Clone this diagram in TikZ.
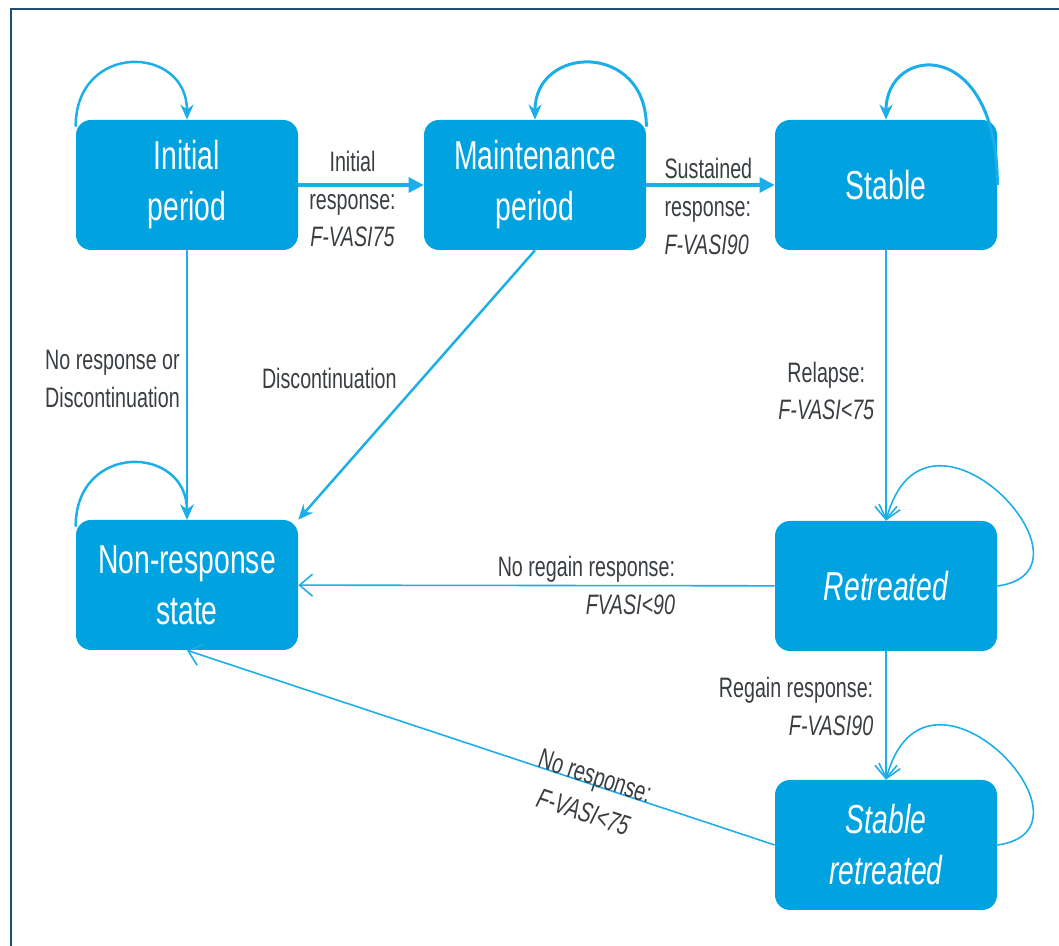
\documentclass[tikz,border=0pt]{standalone}
\usepackage{fontspec}
\setmainfont{Liberation Sans}[FakeStretch=0.7]
\usetikzlibrary{arrows.meta}
\definecolor{stateblue}{RGB}{0,163,224}
\definecolor{flowblue}{RGB}{27,174,232}
\definecolor{inkgray}{RGB}{58,62,66}
\definecolor{framenavy}{RGB}{31,78,121}

\begin{document}
\begin{tikzpicture}[
        state/.style={rectangle,rounded corners=0.3cm,fill=stateblue,text=white,minimum width=4.44cm,
          minimum height=2.6cm,align=center,font=\fontsize{23}{29}\selectfont},
        lbl/.style={text=inkgray,inner sep=0pt,font=\fontsize{16}{21.5}\selectfont},
        bold flow/.style={draw=flowblue,line width=1.8pt,-{Triangle[length=3mm,width=3mm]}},
        flow/.style={draw=flowblue,line width=1.4pt,-{Stealth[length=3mm,width=2.6mm]}},
        thin flow/.style={draw=flowblue,line width=0.9pt,-{Straight Barb[length=2.6mm,width=4.4mm]}}]
        \useasboundingbox (0,0) rectangle (21.18,18.92);
        \draw[framenavy,line width=1.1pt] (0.22,0) |- (21.18,18.74);

        % states
        \node[state] (init) at (3.74,15.22) {Initial\\period};
        \node[state] (maint) at (10.70,15.22) {Maintenance\\period};
        \node[state] (stable) at (17.72,15.22) {Stable};
        \node[state] (nonresp) at (3.74,7.22) {Non-response\\state};
        \node[state,font=\fontsize{23}{29}\selectfont\itshape] (retr) at (17.72,7.20) {Retreated};
        \node[state,font=\fontsize{23}{29}\selectfont\itshape] (stabret) at (17.72,2.02) {Stable\\retreated};

        % self loops
        \foreach \s in {init,nonresp}
          \draw[flow] ([yshift=-0.14cm]\s.north west) .. controls +(0,1.7) and +(0,1.5) .. (\s.north);
        \draw[flow,line width=1.7pt] ([yshift=-0.14cm]maint.north east) .. controls +(0,1.7) and +(0,1.5) .. (maint.north);
        \draw[flow,line width=1.7pt] (stable.east) .. controls +(0,3.0) and +(0,1.5) .. (stable.north);
        \foreach \s in {retr,stabret}
          \draw[thin flow] (\s.east) .. controls +(2.26,0.3) and +(0.78,2.94) .. (\s.north);

        % transitions
        \draw[bold flow] (init) -- node[lbl,align=center,xshift=-0.17cm,yshift=-0.28cm] {Initial\\response:\\\textit{F-VASI75}} (maint);
        \draw[bold flow] (maint) -- node[lbl,align=left,pos=0.13,anchor=west,yshift=-0.43cm] {Sustained\\response:\\\textit{F-VASI90}} (stable);
        \draw[flow] (init) -- node[lbl,align=left,pos=0.478,anchor=east,xshift=-0.12cm] {No response or\\Discontinuation} (nonresp);
        \draw[flow] (maint.south) -- node[lbl,pos=0.474,anchor=east,xshift=-0.5cm] {Discontinuation} (nonresp.north east);
        \draw[thin flow] (stable) -- node[lbl,align=center,pos=0.52,anchor=east,xshift=-0.22cm] {Relapse:\\\textit{F-VASI<75}} (retr);
        \draw[thin flow] (retr) -- node[lbl,align=right,pos=0.2075,anchor=east] {No regain response:\\\textit{FVASI<90}} (nonresp);
        \draw[thin flow] (retr) -- node[lbl,align=right,pos=0.43,anchor=east,xshift=-0.24cm] {Regain response:\\\textit{F-VASI90}} (stabret);
        \draw[thin flow] (stabret.west) -- node[lbl,align=center,sloped,pos=0.31,yshift=-0.2cm] {No response:\\\textit{F-VASI<75}} (nonresp.south);
      \end{tikzpicture}
\end{document}
